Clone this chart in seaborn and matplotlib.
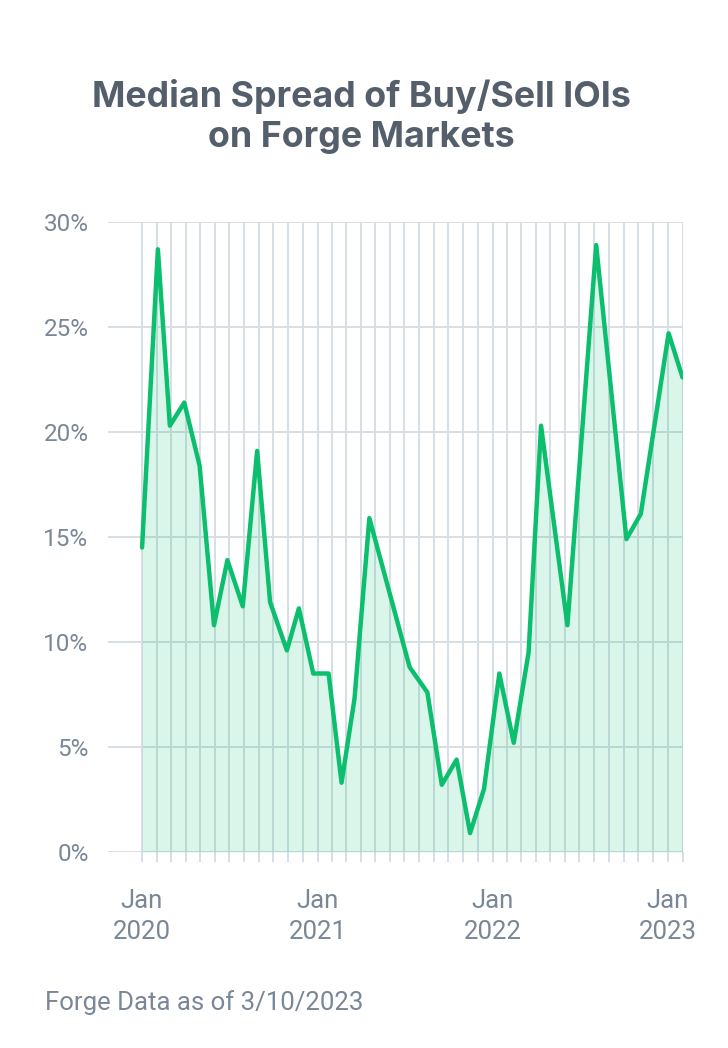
import matplotlib
matplotlib.use("Agg")
import matplotlib.pyplot as plt
import matplotlib.dates as mdates
from matplotlib.ticker import FuncFormatter, FixedLocator
import pandas as pd
import seaborn as sns

# values (median spread, %)
dates = ["2020-01-01", "2020-02-03", "2020-02-28", "2020-03-29", "2020-04-30",
         "2020-05-30", "2020-06-27", "2020-07-29", "2020-08-28", "2020-09-24",
         "2020-10-29", "2020-11-23", "2020-12-23", "2021-01-24", "2021-02-20",
         "2021-03-19", "2021-04-19", "2021-07-12", "2021-08-18", "2021-09-17",
         "2021-10-18", "2021-11-15", "2021-12-14", "2022-01-15", "2022-02-14",
         "2022-03-17", "2022-04-12", "2022-06-06", "2022-08-05", "2022-10-07",
         "2022-11-06", "2023-01-03", "2023-02-01"]
spread = [14.5, 28.7, 20.3, 21.4, 18.4,
          10.8, 13.9, 11.7, 19.1, 11.9,
          9.6, 11.6, 8.5, 8.5, 3.3,
          7.3, 15.9, 8.8, 7.6, 3.2,
          4.4, 0.9, 3.0, 8.5, 5.2,
          9.5, 20.3, 10.8, 28.9, 14.9,
          16.1, 24.7, 22.6]
y_ticks = [0, 5, 10, 15, 20, 25, 30]
month_lines = pd.date_range("2020-01-01", "2023-02-01", freq="MS")
year_ticks = pd.to_datetime(["2020-01-01", "2021-01-01", "2022-01-01", "2023-01-01"])

df = pd.DataFrame({"date": pd.to_datetime(dates), "spread": spread})

green = "#0cbf6e"
grid_c = "#d6dee4"
text_c = "#7a8797"
title_c = "#545f6b"

sns.set_theme(style="white")
plt.rcParams["font.family"] = ["Roboto", "DejaVu Sans"]

fig = plt.figure(figsize=(7.28, 10.48), dpi=100)
ax = fig.add_axes([108 / 728, 1 - 852 / 1048, (683 - 108) / 728, 630 / 1048])

ax.fill_between(df["date"], df["spread"], 0, color=green, alpha=0.15, lw=0, zorder=2)
sns.lineplot(data=df, x="date", y="spread", ax=ax, color=green, lw=3.2, zorder=3)

ax.set_xlim(pd.Timestamp("2019-10-22"), pd.Timestamp("2023-02-02"))
ax.set_ylim(0, 30)
ax.set_yticks(y_ticks)
ax.yaxis.set_major_formatter(FuncFormatter(lambda v, p: f"{int(v)}%"))

ax.xaxis.set_major_locator(FixedLocator(mdates.date2num(year_ticks)))
ax.xaxis.set_minor_locator(FixedLocator(mdates.date2num(month_lines)))
ax.xaxis.set_major_formatter(mdates.DateFormatter("%b\n%Y"))

ax.grid(axis="x", which="both", color=grid_c, lw=1.4, zorder=1)
ax.grid(axis="y", which="major", color=grid_c, lw=1.4, zorder=1)
ax.set_axisbelow(True)

ax.tick_params(axis="x", which="both", length=7, width=1.4, color=grid_c,
               bottom=True, pad=20, labelsize=18.5, labelcolor=text_c)
ax.tick_params(axis="y", length=0, pad=14, labelsize=17.5, labelcolor=text_c)
for lab in ax.get_xticklabels():
    lab.set_linespacing(1.35)

for s in ax.spines.values():
    s.set_visible(False)
ax.set_xlabel("")
ax.set_ylabel("")

fig.text(0.496, 1 - 79 / 1048, "Median Spread of Buy/Sell IOIs\non Forge Markets",
         ha="center", va="top", fontsize=25.8, fontweight="bold", color=title_c,
         family=["Inter", "DejaVu Sans"], linespacing=1.28)
fig.text(45 / 728, 1 - 1010 / 1048, "Forge Data as of 3/10/2023",
         ha="left", va="baseline", fontsize=18.5, color=text_c)

fig.savefig("out.png", dpi=100)
